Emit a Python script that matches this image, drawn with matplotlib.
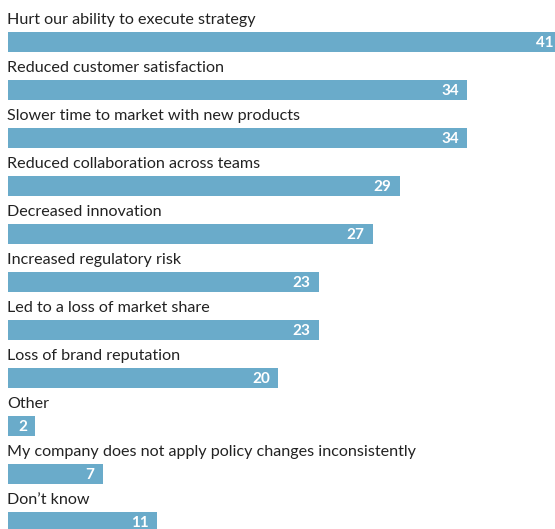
import matplotlib
matplotlib.use("Agg")
import matplotlib.pyplot as plt

categories = [
    "Hurt our ability to execute strategy",
    "Reduced customer satisfaction",
    "Slower time to market with new products",
    "Reduced collaboration across teams",
    "Decreased innovation",
    "Increased regulatory risk",
    "Led to a loss of market share",
    "Loss of brand reputation",
    "Other",
    "My company does not apply policy changes inconsistently",
    "Don\u2019t know",
]
values = [41, 34, 34, 29, 27, 23, 23, 20, 2, 7, 11]

W, H = 555, 529
fig = plt.figure(figsize=(W / 100, H / 100), dpi=100)
left = 8 / W
ax = fig.add_axes([left, 0, 1 - left, 1])
px_per_unit = 13.5
ax.set_xlim(0, (W - 8) / px_per_unit)
pitch = 48.0
top0 = 42.0
ax.set_ylim((H - top0) / pitch, -top0 / pitch)
ax.axis("off")

bar_color = "#6aabca"
ys = list(range(len(categories)))
ax.barh(ys, values, height=20 / pitch, color=bar_color, left=0, clip_on=True)

pad = 8 / px_per_unit
for y, cat, v in zip(ys, categories, values):
    ax.text(-0.05, y - 18 / pitch, cat, ha="left", va="baseline",
            fontsize=11.6, family="Lato", color="#222222")
    ax.text(v - pad, y + 0.02, str(v), ha="right", va="center",
            fontsize=11, family="Lato", fontweight="bold", color="white")

fig.savefig("out.png", dpi=100)
